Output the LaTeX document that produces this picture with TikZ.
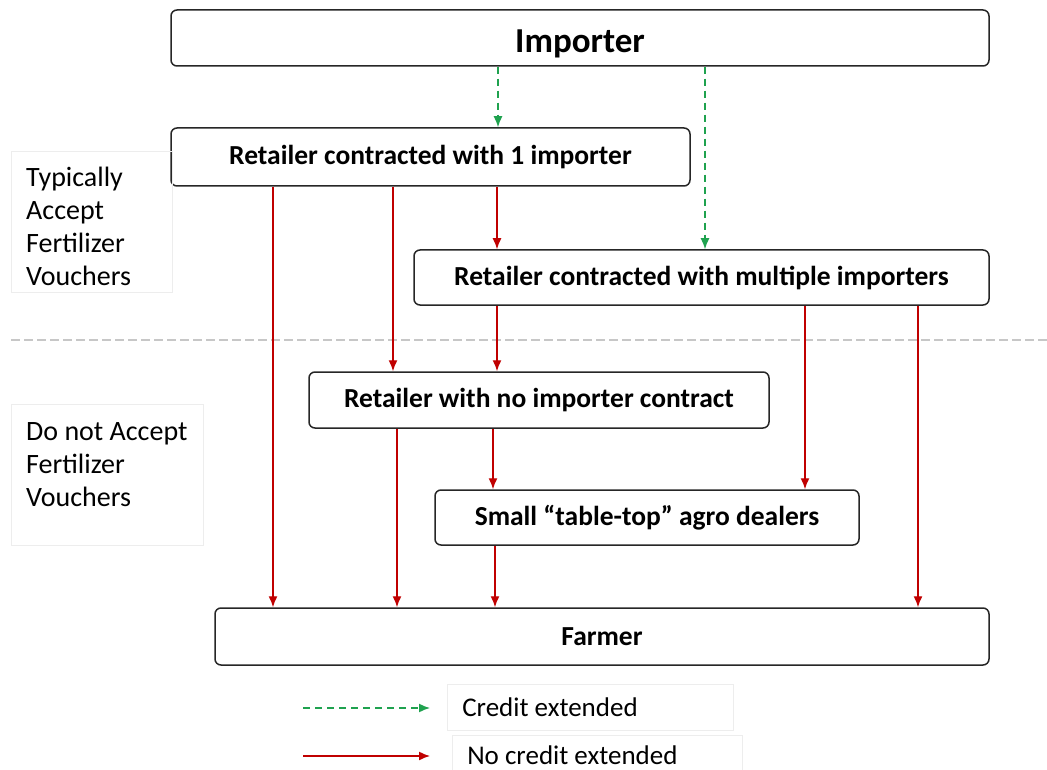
\documentclass[tikz,border=0pt]{standalone}
\usepackage{fontspec}
\setmainfont{Carlito}
\usetikzlibrary{arrows.meta, positioning, calc}
\definecolor{credit_green}{HTML}{1FA24F}
\definecolor{nocredit_red}{HTML}{C00000}
\tikzset{
  actor/.style={rectangle,rounded corners=6pt,draw=black!85,line width=1.5pt,fill=white,inner sep=0pt,font=\bfseries\fontsize{27.5}{30}\selectfont},
  actor_l/.style={actor,font=\bfseries\fontsize{35}{38}\selectfont},
  group/.style={rectangle,draw=black!7,line width=0.6pt,inner sep=0pt,anchor=north west},
  group_text/.style={inner sep=0pt,align=flush left,anchor=north west,font=\fontsize{28}{33}\selectfont},
  legend/.style={group,inner xsep=15pt,align=flush left,font=\fontsize{27}{30}\selectfont},
  credit/.style={draw=credit_green,line width=1.5pt,dash pattern=on 7pt off 5pt,-{Latex[length=11pt,width=9pt]}},
  nocredit/.style={draw=nocredit_red,line width=1.4pt,-{Latex[length=11pt,width=9pt]}},
  divider/.style={draw=black!22,line width=1.5pt,dash pattern=on 9pt off 4pt},
}
\begin{document}
\begin{tikzpicture}[x=1pt,y=-1pt]
	    \useasboundingbox (0,0) rectangle (1047,770);
	    % actors
	    \node[actor_l,minimum width=818pt,minimum height=56pt] (imp) at (580,38) {\raisebox{-15pt}[0pt][0pt]{Importer}};
	    \node[actor,minimum width=519pt,minimum height=58pt] (ret_one) at (430.5,157) {Retailer contracted with 1 importer};
	    \node[actor,minimum width=575pt,minimum height=55pt] (ret_multi) at (701.5,277.5) {Retailer contracted with multiple importers};
	    \node[actor,minimum width=460pt,minimum height=56pt] (ret_none) at (539,400) {Retailer with no importer contract};
	    \node[actor,minimum width=424pt,minimum height=55pt] (tabletop) at (647,517.5) {Small “table-top” agro dealers};
	    \node[actor,minimum width=774pt,minimum height=57pt] (farmer) at (602,636.5) {Farmer};
	    % voucher groups
	    \node[group,minimum width=161pt,minimum height=141pt] (accept) at (11,151) {};
	    \node[group_text,below right=16pt and 15pt of accept.north west] (accept_txt) {Typically\\Accept\\Fertilizer\\Vouchers};
	    \node[group,minimum width=192pt,minimum height=141pt] (noaccept) at (11,404) {};
	    \node[group_text,below right=18pt and 15pt of noaccept.north west] (noaccept_txt) {Do not Accept\\Fertilizer\\Vouchers};
	    \coordinate (div_l) at (11,340);
	    \coordinate (div_r) at (1047,340);
	    \draw[divider] (div_l) -- (div_r);
	    % credit flows
	    \draw[credit] (imp.south -| 498,0) -- (ret_one.north -| 498,0);
	    \draw[credit] (imp.south -| 705,0) -- (ret_multi.north -| 705,0);
	    % no credit flows
	    \draw[nocredit] (ret_one.south -| 273,0) -- (farmer.north -| 273,0);
	    \draw[nocredit] (ret_one.south -| 393,0) -- (ret_none.north -| 393,0);
	    \draw[nocredit] (ret_one.south -| 497,0) -- (ret_multi.north -| 497,0);
	    \draw[nocredit] (ret_multi.south -| 497,0) -- (ret_none.north -| 497,0);
	    \draw[nocredit] (ret_multi.south -| 805,0) -- (tabletop.north -| 805,0);
	    \draw[nocredit] (ret_multi.south -| 918,0) -- (farmer.north -| 918,0);
	    \draw[nocredit] (ret_none.south -| 397,0) -- (farmer.north -| 397,0);
	    \draw[nocredit] (ret_none.south -| 493,0) -- (tabletop.north -| 493,0);
	    \draw[nocredit] (tabletop.south -| 495,0) -- (farmer.north -| 495,0);
	    % legend
	    \node[legend,text width=256pt,minimum height=46pt] (credit_lbl) at (447,684) {Credit extended};
	    \node[legend,text width=260pt,minimum height=40pt] (nocredit_lbl) at (452,735) {No credit extended};
	    \coordinate (credit_start) at (303,708);
	    \coordinate (nocredit_start) at (303,756);
	    \draw[credit] (credit_start) -- (credit_start -| 430,0);
	    \draw[nocredit] (nocredit_start) -- (nocredit_start -| 430,0);
\end{tikzpicture}
\end{document}
